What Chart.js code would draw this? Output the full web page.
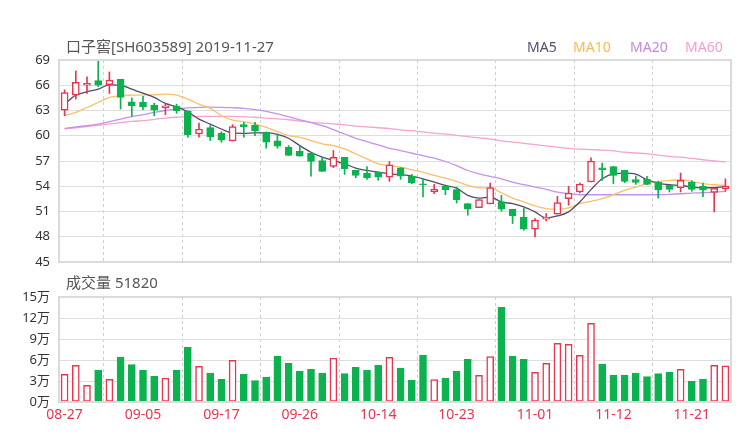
<!DOCTYPE html>
<html>
<head>
<meta charset="utf-8">
<script src="https://cdn.jsdelivr.net/npm/chart.js@4.4.1/dist/chart.umd.min.js"></script>
<style>
  body { margin: 0; background: #fff; }
  #wrap { position: relative; width: 740px; height: 440px; font-family: 'Noto Sans', 'Noto Sans CJK SC', sans-serif; }
  canvas { position: absolute; left: 0; }
  .txt { position: absolute; white-space: nowrap; line-height: 1; }
</style>
</head>
<body>
<div id="wrap">
  <canvas id="kline" width="740" height="270" style="top:0"></canvas>
  <canvas id="vol" width="740" height="170" style="top:270px"></canvas>
  <div class="txt" style="left:66px;top:39px;font-size:15px;color:#555">口子窖[SH603589] 2019-11-27</div>
  <div class="txt" style="left:527px;top:40px;font-size:14px;color:#4f4c6e">MA5</div>
  <div class="txt" style="left:573px;top:40px;font-size:14px;color:#fbb94e">MA10</div>
  <div class="txt" style="left:630px;top:40px;font-size:14px;color:#c08ae8">MA20</div>
  <div class="txt" style="left:685px;top:40px;font-size:14px;color:#f79ccb">MA60</div>
  <div class="txt" style="left:66px;top:275px;font-size:15px;color:#555">成交量 51820</div>
</div>
<script>
// trading days shown
const dates = [
  "08-27","08-28","08-29","08-30","09-02","09-03","09-04","09-05","09-06","09-09",
  "09-10","09-11","09-12","09-16","09-17","09-18","09-19","09-20","09-23","09-24",
  "09-25","09-26","09-27","09-30","10-08","10-09","10-10","10-11","10-14","10-15",
  "10-16","10-17","10-18","10-21","10-22","10-23","10-24","10-25","10-28","10-29",
  "10-30","10-31","11-01","11-04","11-05","11-06","11-07","11-08","11-11","11-12",
  "11-13","11-14","11-15","11-18","11-19","11-20","11-21","11-22","11-25","11-26"
];

const opens = [
  63.05,64.82,66.00,66.56,66.08,66.71,64.04,63.96,63.64,63.33,
  63.52,62.97,60.21,60.96,60.33,59.39,61.32,61.24,60.45,59.39,
  58.63,58.16,57.93,57.06,56.35,57.45,55.88,55.57,55.68,55.09,
  56.20,55.21,54.30,53.36,53.98,53.59,51.94,51.46,51.90,52.14,
  51.27,50.32,48.90,50.09,50.68,52.53,53.32,54.50,56.20,56.35,
  55.88,54.78,54.82,54.50,54.10,53.83,54.50,54.03,53.28,53.67
];
const closes = [
  65.14,66.36,66.24,66.00,66.60,64.55,63.56,63.44,63.05,63.56,
  62.97,60.13,60.80,59.90,59.47,61.08,61.08,60.61,59.23,58.76,
  57.65,57.57,56.94,55.76,57.45,56.08,55.29,55.01,55.09,56.55,
  55.21,54.42,54.15,53.63,53.59,52.41,51.27,52.41,53.83,51.27,
  50.48,48.90,49.97,50.32,52.06,53.20,54.26,56.98,55.96,55.29,
  54.58,54.46,54.22,53.55,53.63,54.70,53.63,53.52,53.75,54.03
];
const highs = [
  65.45,67.70,66.99,68.95,67.58,66.71,64.50,64.67,63.88,63.84,
  63.76,62.97,61.51,61.20,60.49,61.32,61.59,61.59,60.45,60.21,
  58.83,58.83,57.93,57.45,58.24,57.45,55.88,56.35,55.68,56.94,
  56.20,55.41,54.89,54.22,53.98,53.90,51.94,52.41,54.38,52.92,
  51.27,51.43,50.17,50.76,52.80,53.99,54.38,57.37,56.75,56.35,
  55.88,55.21,55.17,54.58,54.10,55.57,54.66,54.38,53.75,54.89
];
const lows = [
  62.38,64.35,65.02,65.85,65.02,63.17,62.30,63.09,62.38,62.50,
  62.66,59.82,59.82,59.43,59.23,59.39,59.82,60.02,58.52,58.52,
  57.65,57.57,55.21,55.76,56.20,55.41,55.01,54.82,54.70,54.58,
  54.82,54.30,52.73,53.12,53.00,52.00,50.56,51.46,51.90,51.03,
  49.57,48.78,47.99,49.89,50.68,51.74,53.20,54.50,54.70,54.30,
  54.42,54.22,54.18,52.60,53.32,53.32,53.40,52.76,50.95,53.40
];

// volume in 万
const volumes = [
  3.95,5.24,2.38,4.57,3.24,6.43,5.33,4.52,3.67,3.43,
  4.52,7.81,5.10,4.14,3.24,5.95,3.95,3.05,3.57,6.52,
  5.52,4.38,4.67,4.14,6.29,4.05,4.95,4.57,5.24,6.38,
  4.86,3.10,6.71,3.19,3.43,4.43,6.10,3.81,6.48,13.52,
  6.52,6.10,4.24,5.52,8.38,8.24,6.67,11.24,5.43,3.86,
  3.86,4.14,3.62,4.05,4.24,4.67,2.95,3.29,5.24,5.18
];

// moving averages
const ma5 = [
  63.76,64.82,65.22,65.53,66.04,66.00,65.53,65.06,64.55,63.84,
  63.44,62.85,61.98,61.39,60.80,60.33,60.29,60.33,60.33,60.17,
  59.70,58.83,58.04,57.45,57.06,56.67,56.15,55.88,55.68,55.48,
  55.37,55.21,54.89,54.50,54.10,53.78,52.92,52.60,52.72,52.13,
  51.93,51.54,50.95,50.24,50.47,50.95,52.13,53.60,54.89,55.48,
  55.55,55.44,54.77,54.38,54.18,54.10,53.90,53.82,53.82,53.98
];
const ma10 = [
  62.38,62.77,63.36,63.95,64.55,64.74,64.82,64.86,64.86,64.94,
  64.82,64.35,63.76,63.25,62.38,61.86,61.67,61.39,61.00,60.49,
  60.01,59.82,59.42,59.03,58.83,58.44,57.84,57.25,56.66,56.46,
  56.27,55.95,55.68,55.28,54.97,54.57,54.10,53.82,53.78,53.23,
  52.60,52.13,51.66,51.34,51.26,51.42,51.93,52.21,52.52,53.00,
  53.51,53.90,54.30,54.57,54.69,54.77,54.57,54.30,54.18,54.10
];
const ma20 = [
  60.88,61.04,61.19,61.39,61.67,61.98,62.26,62.50,62.77,63.00,
  63.20,63.30,63.38,63.40,63.38,63.33,63.25,63.10,62.90,62.60,
  62.25,61.90,61.55,61.19,60.72,60.21,59.70,59.30,58.91,58.51,
  58.24,57.92,57.65,57.33,56.94,56.46,55.87,55.48,55.16,54.89,
  54.49,54.18,53.90,53.63,53.31,53.11,52.99,52.99,52.99,52.99,
  52.99,52.99,52.99,52.99,53.03,53.11,53.19,53.23,53.31,53.39
];
const ma60 = [
  60.80,60.95,61.10,61.25,61.40,61.55,61.70,61.80,61.95,62.10,
  62.20,62.25,62.30,62.30,62.30,62.30,62.25,62.20,62.10,62.00,
  61.90,61.75,61.60,61.50,61.40,61.30,61.15,61.05,60.95,60.85,
  60.70,60.60,60.45,60.30,60.20,60.05,59.90,59.75,59.60,59.40,
  59.25,59.10,58.95,58.80,58.65,58.50,58.40,58.35,58.30,58.20,
  58.05,57.95,57.85,57.70,57.55,57.45,57.30,57.15,57.00,56.90
];

const RED = '#e8364f';
const GREEN = '#0bb24e';
const FONT = "'Noto Sans', 'Noto Sans CJK SC', sans-serif";

const up = opens.map((o, i) => closes[i] >= o);

// light frame round the plot area
const frame = {
  id: 'frame',
  afterDatasetsDraw(chart) {
    const { ctx, chartArea: a } = chart;
    ctx.save();
    ctx.strokeStyle = '#dadada';
    ctx.lineWidth = 2;
    ctx.strokeRect(a.left, a.top, a.right - a.left, a.bottom - a.top);
    ctx.restore();
  }
};

function vGrid() {
  return {
    offset: true,
    drawTicks: false,
    lineWidth: 1,
    color: c => (c.index % 7 === 4 ? '#cfcfcf' : 'rgba(0,0,0,0)')
  };
}

// fixed axis width, and no extra room for the end labels
function fixY(s) {
  s.width = 59;
  s.paddingTop = 0;
  s.paddingBottom = 0;
}

function maLine(label, data, color, order) {
  return {
    type: 'line', label, data, order,
    borderColor: color, borderWidth: 1.3,
    pointRadius: 0, cubicInterpolationMode: 'monotone'
  };
}

new Chart(document.getElementById('kline'), {
  data: {
    labels: dates,
    datasets: [
      maLine('MA60', ma60, '#f7a3cf', 6),
      maLine('MA20', ma20, '#c592ea', 5),
      maLine('MA10', ma10, '#fbc068', 4),
      maLine('MA5', ma5, '#4f4c6e', 3),
      {
        type: 'bar', label: 'wick', order: 2, grouped: false,
        data: lows.map((l, i) => [l, highs[i]]),
        backgroundColor: up.map(u => (u ? RED : GREEN)),
        barThickness: 1
      },
      {
        type: 'bar', label: 'body', order: 1, grouped: false,
        data: opens.map((o, i) => [o, closes[i]]),
        backgroundColor: up.map(u => (u ? '#fff' : GREEN)),
        borderColor: up.map(u => (u ? RED : GREEN)),
        borderWidth: 1.5, borderSkipped: false,
        barThickness: 7
      }
    ]
  },
  options: {
    responsive: false,
    animation: false,
    devicePixelRatio: 1,
    layout: { padding: { top: 60, right: 9, bottom: 8, left: 0 } },
    plugins: { legend: { display: false }, tooltip: { enabled: false } },
    scales: {
      x: {
        offset: true,
        grid: vGrid(),
        border: { display: false, dash: [3, 3] },
        ticks: { display: false, autoSkip: false },
        afterFit: s => { s.height = 0; }
      },
      y: {
        min: 45, max: 69,
        ticks: { stepSize: 3, padding: 9, color: '#333', font: { size: 13, family: FONT } },
        grid: { color: '#dedede', drawTicks: false },
        border: { display: false },
        afterFit: fixY
      }
    }
  },
  plugins: [frame]
});

new Chart(document.getElementById('vol'), {
  type: 'bar',
  data: {
    labels: dates,
    datasets: [{
      label: '成交量',
      data: volumes,
      backgroundColor: up.map(u => (u ? '#fff' : GREEN)),
      borderColor: up.map(u => (u ? RED : GREEN)),
      borderWidth: 1.5, borderSkipped: false,
      barThickness: 7
    }]
  },
  options: {
    responsive: false,
    animation: false,
    devicePixelRatio: 1,
    layout: { padding: { top: 27, right: 9, bottom: 0, left: 0 } },
    plugins: { legend: { display: false }, tooltip: { enabled: false } },
    scales: {
      x: {
        offset: true,
        grid: vGrid(),
        border: { display: false, dash: [3, 3] },
        ticks: {
          autoSkip: false, maxRotation: 0, padding: 5,
          color: RED, font: { size: 14, family: FONT },
          callback: (v, i) => (i % 7 === 0 ? dates[i] : '')
        },
        afterFit: s => { s.height = 38; }
      },
      y: {
        min: 0, max: 15,
        ticks: {
          stepSize: 3, padding: 9, color: '#333', font: { size: 13, family: FONT },
          callback: v => v + '万'
        },
        grid: { color: '#dedede', drawTicks: false },
        border: { display: false },
        afterFit: fixY
      }
    }
  },
  plugins: [frame]
});
</script>
</body>
</html>
